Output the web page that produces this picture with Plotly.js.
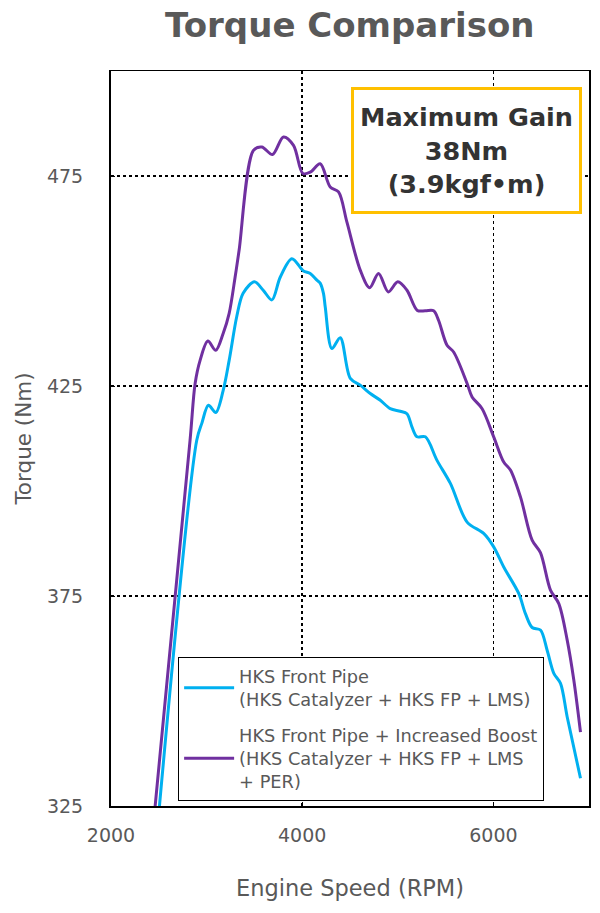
<!DOCTYPE html>
<html>
<head>
<meta charset="utf-8">
<script src="https://cdn.plot.ly/plotly-3.0.1.min.js"></script>
<style>
html,body{margin:0;padding:0;background:#fff;}
#chart{width:600px;height:913px;}
</style>
</head>
<body>
<div id="chart"></div>
<script>
// Data
const rpmFP = [2506, 2897, 2950, 3019, 3096, 3173, 3236, 3316, 3382, 3501, 3592, 3683, 3770, 3892, 4013, 4084, 4154, 4188, 4223, 4241, 4311, 4398, 4503, 4607, 4712, 4817, 4921, 5026, 5096, 5149, 5201, 5288, 5410, 5550, 5725, 5898, 6003, 6108, 6265, 6335, 6405, 6492, 6562, 6632, 6702, 6772, 6911];
const torqueFP = [324.8, 412.1, 416.1, 420.4, 418.7, 423.9, 431.1, 441.6, 447.1, 449.8, 447.8, 445.5, 450.9, 455.3, 452.4, 451.8, 450.2, 449.5, 447.0, 443.8, 433.9, 436.5, 426.8, 425.2, 423.2, 421.6, 419.6, 419.0, 418.4, 415.2, 412.9, 412.9, 407.3, 401.8, 392.6, 389.9, 386.7, 381.9, 375.6, 370.8, 367.5, 366.9, 362.1, 356.6, 354.2, 346.2, 331.6];

const rpmBoost = [2461, 2827, 2880, 2932, 3013, 3096, 3173, 3236, 3298, 3340, 3490, 3578, 3689, 3804, 3909, 4007, 4084, 4188, 4293, 4380, 4468, 4607, 4705, 4799, 4900, 5000, 5096, 5204, 5288, 5375, 5427, 5515, 5584, 5725, 5777, 5882, 6003, 6108, 6178, 6283, 6405, 6492, 6597, 6684, 6772, 6841, 6911];
const torqueBoost = [324.8, 412.1, 425.6, 431.1, 435.7, 433.5, 437.5, 442.3, 450.9, 457.3, 481.1, 481.9, 480.1, 484.3, 482.3, 475.6, 475.9, 477.9, 472.4, 471.2, 464.0, 452.6, 448.4, 451.8, 447.4, 449.8, 447.8, 443.0, 442.9, 442.9, 440.6, 434.7, 433.1, 425.6, 422.4, 419.6, 412.9, 406.9, 405.0, 398.6, 388.3, 385.3, 376.4, 373.2, 364.5, 355.0, 342.6];

const xTicks = [2000, 4000, 6000];
const yTicks = [325, 375, 425, 475];
const seriesNames = [
  'HKS Front Pipe<br>(HKS Catalyzer + HKS FP + LMS)',
  'HKS Front Pipe + Increased Boost<br>(HKS Catalyzer + HKS FP + LMS<br>+ PER)'
];
const titleText = 'Torque Comparison';
const gainText = 'Maximum Gain<br>38Nm<br>(3.9kgf\u2022m)';

const FONT = 'DejaVu Sans, Verdana, sans-serif';
const GRAY = '#595959';

const traces = [
  {x: rpmFP, y: torqueFP, name: seriesNames[0], mode: 'lines', legendgroup: 'a',
   line: {color: '#00B0F0', width: 3, shape: 'spline', smoothing: 0.9}},
  {x: rpmBoost, y: torqueBoost, name: seriesNames[1], mode: 'lines', legendgroup: 'b',
   line: {color: '#7030A0', width: 3, shape: 'spline', smoothing: 0.9}}
];

const layout = {
  width: 600, height: 913,
  margin: {l: 111, r: 11, t: 71, b: 107},
  paper_bgcolor: '#fff', plot_bgcolor: '#fff',
  font: {family: FONT, color: GRAY},
  title: {text: '<b>' + titleText + '</b>', font: {size: 34, color: GRAY, family: FONT},
          x: 0.583, xanchor: 'center', y: 0.972, yanchor: 'middle'},
  xaxis: {
    range: [2000, 7000], tickvals: xTicks, ticktext: xTicks.map(String),
    showgrid: true, gridcolor: '#000', griddash: 'dot', gridwidth: 1.5,
    zeroline: false, showline: true, linecolor: '#000', linewidth: 1.5, mirror: true,
    ticks: 'inside', ticklen: 4, tickcolor: '#000',
    tickfont: {size: 19, color: GRAY, family: FONT}, ticklabelstandoff: 12,
    title: {text: 'Engine Speed (RPM)', font: {size: 22.5, color: GRAY, family: FONT}, standoff: 35}
  },
  yaxis: {
    range: [325, 500], tickvals: yTicks, ticktext: yTicks.map(String),
    showgrid: true, gridcolor: '#000', griddash: 'dot', gridwidth: 1.5,
    zeroline: false, showline: true, linecolor: '#000', linewidth: 2, mirror: true,
    ticks: 'inside', ticklen: 4, tickcolor: '#000',
    tickfont: {size: 19, color: GRAY, family: FONT}, ticklabelstandoff: 22,
    title: {text: 'Torque (Nm)', font: {size: 21.5, color: GRAY, family: FONT}, standoff: 9}
  },
  showlegend: true,
  legend: {
    x: 0.14, xanchor: 'left', y: 0.007, yanchor: 'bottom',
    bgcolor: '#fff', bordercolor: '#000', borderwidth: 1.2,
    font: {size: 17.75, color: GRAY, family: FONT}, itemwidth: 50,
    tracegroupgap: 10
  },
  annotations: [{
    xref: 'paper', yref: 'paper', x: 0.744, y: 0.892, xanchor: 'center', yanchor: 'middle',
    text: '<b>' + gainText + '</b>', showarrow: false, align: 'center', valign: 'middle',
    font: {size: 25.5, color: '#333333', family: FONT},
    bgcolor: '#fff', bordercolor: '#FFC000', borderwidth: 3, borderpad: 0,
    width: 225, height: 121
  }]
};

Plotly.newPlot('chart', traces, layout, {displayModeBar: false, staticPlot: true});
</script>
</body>
</html>
